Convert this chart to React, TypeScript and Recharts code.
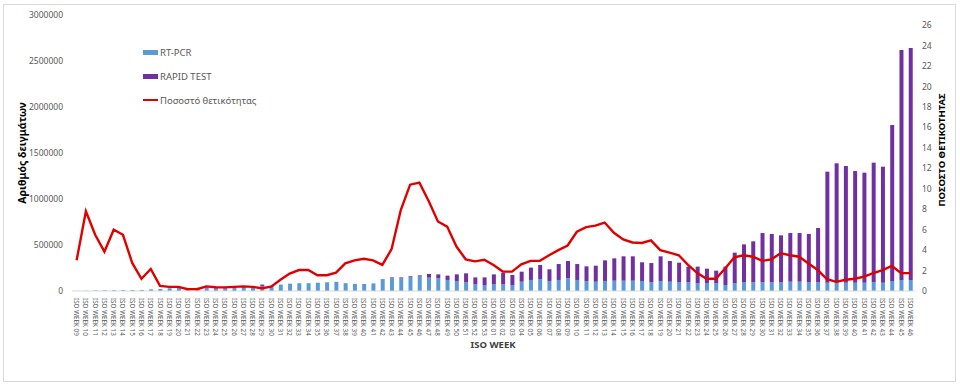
import React from "react";
import { ComposedChart, Bar, Line, XAxis, YAxis, Legend } from "recharts";

const weeks: string[] = [
  "09","10","11","12","13","14","15","16","17","18","19","20","21","22","23","24","25","26","27","28",
  "29","30","31","32","33","34","35","36","37","38","39","40","41","42","43","44","45","46","47","48",
  "49","50","51","52","53",
  "01","02","03","04","05","06","07","08","09","10","11","12","13","14","15","16","17","18","19","20",
  "21","22","23","24","25","26","27","28","29","30","31","32","33","34","35","36","37","38","39","40",
  "41","42","43","44","45","46",
].map((w) => "ISO WEEK " + w);

const rtPcr: number[] = [
  1000, 3000, 6000, 8000, 9000, 10000, 11000, 12000, 18000, 22000,
  30000, 35000, 32000, 35000, 40000, 40000, 42000, 45000, 48000, 50000,
  55000, 60000, 70000, 80000, 85000, 85000, 90000, 95000, 100000, 85000,
  78000, 76000, 83000, 130000, 138000, 138000, 156000, 158000, 145000, 138000,
  120000, 109000, 94000, 72000, 65000, 72000, 72000, 65000, 101000, 120000,
  130000, 109000, 120000, 138000, 120000, 105000, 101000, 109000, 112000, 112000,
  112000, 109000, 94000, 109000, 101000, 94000, 94000, 83000, 83000, 83000,
  65000, 83000, 94000, 94000, 94000, 94000, 94000, 101000, 101000, 94000,
  94000, 90000, 90000, 90000, 90000, 90000, 95000, 90000, 110000, 120000, 120000,
];

const rapidTest: number[] = [
  0, 0, 0, 0, 0, 0, 0, 0, 0, 0,
  0, 0, 0, 0, 0, 0, 0, 0, 0, 0,
  15000, 0, 0, 0, 0, 0, 0, 0, 0, 0,
  0, 0, 0, 0, 10000, 10000, 7000, 12000, 40000, 43000,
  47000, 72000, 98000, 76000, 83000, 109000, 127000, 109000, 109000, 134000,
  153000, 127000, 173000, 188000, 173000, 163000, 174000, 224000, 243000, 265000,
  265000, 203000, 210000, 268000, 225000, 214000, 171000, 182000, 160000, 138000,
  200000, 334000, 413000, 446000, 536000, 526000, 511000, 529000, 529000, 526000,
  591000, 1207000, 1298000, 1269000, 1214000, 1196000, 1300000, 1261000, 1694000, 2500000, 2520000,
];

const positivity: number[] = [
  3.0, 7.8, 5.5, 3.85, 6.0, 5.5, 2.75, 1.2, 2.15, 0.5,
  0.4, 0.4, 0.17, 0.17, 0.45, 0.37, 0.35, 0.4, 0.45, 0.4,
  0.27, 0.43, 1.1, 1.7, 2.05, 2.06, 1.54, 1.54, 1.8, 2.7,
  3.0, 3.15, 3.0, 2.55, 4.1, 7.95, 10.4, 10.6, 8.8, 6.8,
  6.3, 4.35, 3.1, 2.9, 3.05, 2.55, 1.9, 1.9, 2.6, 2.95,
  2.95, 3.5, 4.0, 4.45, 5.8, 6.25, 6.4, 6.7, 5.7, 5.05,
  4.75, 4.7, 4.95, 4.0, 3.75, 3.5, 2.55, 1.75, 1.2, 1.2,
  2.2, 3.3, 3.5, 3.35, 2.95, 3.1, 3.7, 3.5, 3.35, 2.7,
  2.05, 1.15, 0.9, 1.1, 1.2, 1.4, 1.75, 2.05, 2.45, 1.75, 1.75,
];

const leftTicks: number[] = [0, 500000, 1000000, 1500000, 2000000, 2500000, 3000000];
const rightTicks: number[] = [0, 2, 4, 6, 8, 10, 12, 14, 16, 18, 20, 22, 24, 26];

const data = weeks.map((week, i) => ({
  week,
  pcr: rtPcr[i],
  rapid: rapidTest[i],
  pos: positivity[i],
}));

const FONT = "'Noto Sans', 'DejaVu Sans', sans-serif";
const BLUE = "#5B9BD5";
const PURPLE = "#7030A0";
const RED = "#E00000";

const legendItems = [
  { name: "RT-PCR", color: BLUE, type: "bar" },
  { name: "RAPID TEST", color: PURPLE, type: "bar" },
  { name: "Ποσοστό θετικότητας", color: RED, type: "line" },
];

const LegendContent = () => (
  <div style={{ fontFamily: FONT, fontSize: 9.5, color: "#595959", whiteSpace: "nowrap" }}>
    {legendItems.map((it) => (
      <div key={it.name} style={{ display: "flex", alignItems: "center", height: 24 }}>
        <span
          style={{
            display: "inline-block",
            width: 15,
            height: it.type === "bar" ? 5 : 2,
            background: it.color,
            marginRight: 2,
          }}
        />
        <span>{it.name}</span>
      </div>
    ))}
  </div>
);

const XTick = (props: any) => {
  const { x, y, payload } = props;
  const ty = y + 5;
  return (
    <text
      x={x}
      y={ty}
      transform={`rotate(90, ${x}, ${ty})`}
      textAnchor="start"
      dominantBaseline="central"
      fontSize={6.3}
      fill="#595959"
      fontFamily={FONT}
    >
      {payload.value}
    </text>
  );
};

export default function App() {
  return (
    <div style={{ position: "absolute", left: 0, top: 0, width: 960, height: 385, background: "#fff" }}>
      <ComposedChart
        width={960}
        height={385}
        data={data}
        margin={{ top: 15, right: 0, bottom: 44, left: 0 }}
        barCategoryGap="55%"
        style={{ fontFamily: FONT }}
      >
        <XAxis
          dataKey="week"
          interval={0}
          height={50}
          tick={<XTick />}
          tickLine={false}
          tickSize={0}
          axisLine={{ stroke: "#d9d9d9" }}
        />
        <YAxis
          yAxisId="left"
          width={72}
          domain={[0, 3000000]}
          ticks={leftTicks}
          interval={0}
          axisLine={false}
          tickLine={false}
          tickSize={0}
          tickMargin={9}
          tick={{ fontSize: 8.5, fill: "#595959", fontFamily: FONT }}
        />
        <YAxis
          yAxisId="right"
          orientation="right"
          width={45}
          domain={[0, 27]}
          ticks={rightTicks}
          interval={0}
          axisLine={false}
          tickLine={false}
          tickSize={0}
          tickMargin={7}
          tick={{ fontSize: 8.5, fill: "#595959", fontFamily: FONT }}
        />
        <Legend
          layout="vertical"
          align="center"
          verticalAlign="middle"
          wrapperStyle={{ left: 143, top: 40, width: "auto", height: "auto" }}
          content={<LegendContent />}
        />
        <Bar yAxisId="left" dataKey="pcr" name="RT-PCR" stackId="a" fill={BLUE} barSize={4} isAnimationActive={false} />
        <Bar yAxisId="left" dataKey="rapid" name="RAPID TEST" stackId="a" fill={PURPLE} barSize={4} isAnimationActive={false} />
        <Line
          yAxisId="right"
          type="linear"
          dataKey="pos"
          name="Ποσοστό θετικότητας"
          stroke={RED}
          strokeWidth={2.4}
          dot={false}
          activeDot={false}
          isAnimationActive={false}
        />
      </ComposedChart>
      <div
        style={{
          position: "absolute",
          left: 22,
          top: 153,
          transform: "translate(-50%, -50%) rotate(-90deg)",
          whiteSpace: "nowrap",
          fontFamily: FONT,
          fontWeight: 700,
          fontSize: 10.5,
          color: "#000",
        }}
      >
        Αριθμός δειγμάτων
      </div>
      <div
        style={{
          position: "absolute",
          left: 941,
          top: 150,
          transform: "translate(-50%, -50%) rotate(-90deg)",
          whiteSpace: "nowrap",
          fontFamily: FONT,
          fontWeight: 700,
          fontSize: 9.5,
          color: "#000",
        }}
      >
        ΠΟΣΟΣΤΟ ΘΕΤΙΚΟΤΗΤΑΣ
      </div>
      <div
        style={{
          position: "absolute",
          left: 493,
          top: 344,
          transform: "translate(-50%, -50%)",
          whiteSpace: "nowrap",
          fontFamily: FONT,
          fontWeight: 700,
          fontSize: 9.5,
          color: "#404040",
        }}
      >
        ISO WEEK
      </div>
      <div
        style={{
          position: "absolute",
          left: 3,
          top: 4,
          width: 951,
          height: 376,
          border: "1px solid #d9d9d9",
          pointerEvents: "none",
        }}
      />
    </div>
  );
}
